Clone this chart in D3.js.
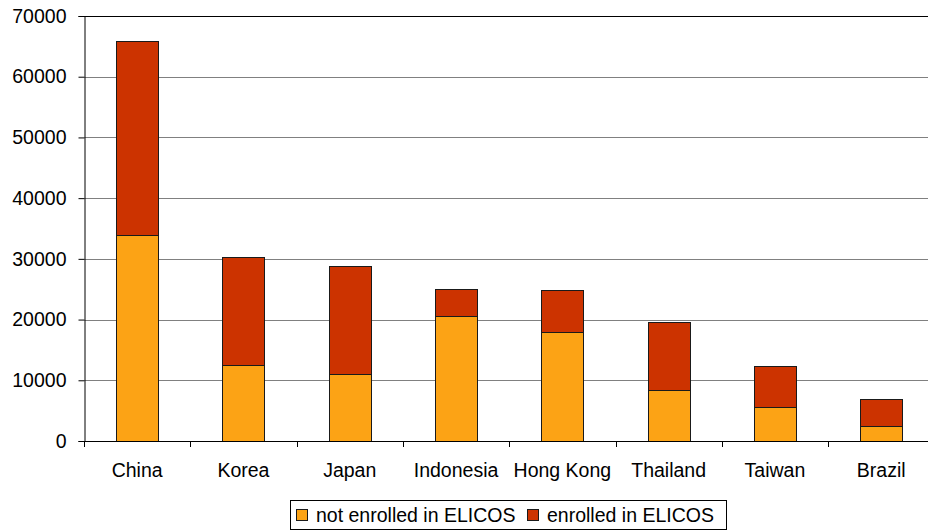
<!DOCTYPE html>
<html><head><meta charset="utf-8">
<script src="https://cdn.jsdelivr.net/npm/d3@7"></script>
<style>body{margin:0;background:#fff}svg{display:block}text{font-family:"Liberation Sans",Arial,sans-serif;fill:#000}</style>
</head><body><svg id="c" width="928" height="531"></svg>
<script>
const categories = ["China","Korea","Japan","Indonesia","Hong Kong","Thailand","Taiwan","Brazil"];
const notEnrolled = [34000,12500,11000,20600,17900,8400,5600,2400];
const enrolled    = [31900,17800,17800,4400,6900,11200,6800,4600];
const seriesNames = ["not enrolled in ELICOS","enrolled in ELICOS"];
const seriesColors = ["#FCA315","#CC3300"];
const yTicks = [0,10000,20000,30000,40000,50000,60000,70000];

const svg = d3.select("#c");
const L = 84.5, T = 16, B = 441;
const FS = 19.5;
const x = d3.scaleBand().domain(categories).range([L - 0.5, L - 0.5 + 106.3*8]).paddingInner(0).paddingOuter(0);
const y = d3.scaleLinear().domain([0,70000]).range([B, T]);

// gridlines
svg.append("g").selectAll("line").data(yTicks.filter(d=>d>0 && d<70000)).join("line")
  .attr("x1", L).attr("x2", 928).attr("y1", d=>Math.round(y(d))+0.5).attr("y2", d=>Math.round(y(d))+0.5)
  .attr("stroke", "#808080").attr("stroke-width", 1);
// top border
svg.append("line").attr("x1", L).attr("x2", 928).attr("y1", T+0.5).attr("y2", T+0.5).attr("stroke","#000");

const data = categories.map((c,i)=>({cat:c, not:notEnrolled[i], en:enrolled[i]}));
const stack = d3.stack().keys(["not","en"])(data);
const bw = x.bandwidth()*0.395;
svg.append("g").selectAll("g").data(stack).join("g")
  .attr("fill", (d,i)=>seriesColors[i])
  .selectAll("rect").data(d=>d).join("rect")
  .attr("x", d=>Math.round(x(d.data.cat) + x.bandwidth()/2 - bw/2)+0.5)
  .attr("width", Math.round(bw))
  .attr("y", d=>Math.round(y(d[1]))+0.5)
  .attr("height", d=>Math.round(y(d[0]))-Math.round(y(d[1])))
  .attr("stroke", "#1a1a1a").attr("stroke-width", 1);

// y axis
const ya = svg.append("g").attr("transform", `translate(${L},0)`)
  .call(d3.axisLeft(y).tickValues(yTicks).tickSize(6).tickPadding(12).tickFormat(d3.format("d")));
ya.select(".domain").attr("stroke","#000");
ya.selectAll(".tick line").attr("stroke","#000");
ya.selectAll("text").attr("font-size", FS).attr("font-family", '"Liberation Sans",Arial,sans-serif');

// x axis
svg.append("line").attr("x1", L).attr("x2", 928).attr("y1", B+0.5).attr("y2", B+0.5).attr("stroke","#000");
const bounds = categories.map(c=>x(c)).concat([x(categories[7])+x.bandwidth()]);
svg.append("g").selectAll("line").data(bounds.filter(v=>v<928)).join("line")
  .attr("x1", d=>Math.round(d)+0.5).attr("x2", d=>Math.round(d)+0.5).attr("y1", B).attr("y2", B+6).attr("stroke","#000");
svg.append("g").selectAll("text").data(categories).join("text")
  .attr("x", d=>x(d)+x.bandwidth()/2).attr("y", 477).attr("text-anchor","middle").attr("font-size",FS).text(d=>d);

// legend
const lg = svg.append("g");
lg.append("rect").attr("x", 290.5).attr("y", 500.5).attr("width", 436).attr("height", 29).attr("fill","#fff").attr("stroke","#000");
const lx = [296, 527];
seriesNames.forEach((n,i)=>{
  lg.append("rect").attr("x", lx[i]+0.5).attr("y", 509.5).attr("width", 11).attr("height", 11).attr("fill", seriesColors[i]).attr("stroke","#1a1a1a");
  lg.append("text").attr("x", lx[i]+20).attr("y", 522).attr("font-size",FS).text(n);
});
</script></body></html>
